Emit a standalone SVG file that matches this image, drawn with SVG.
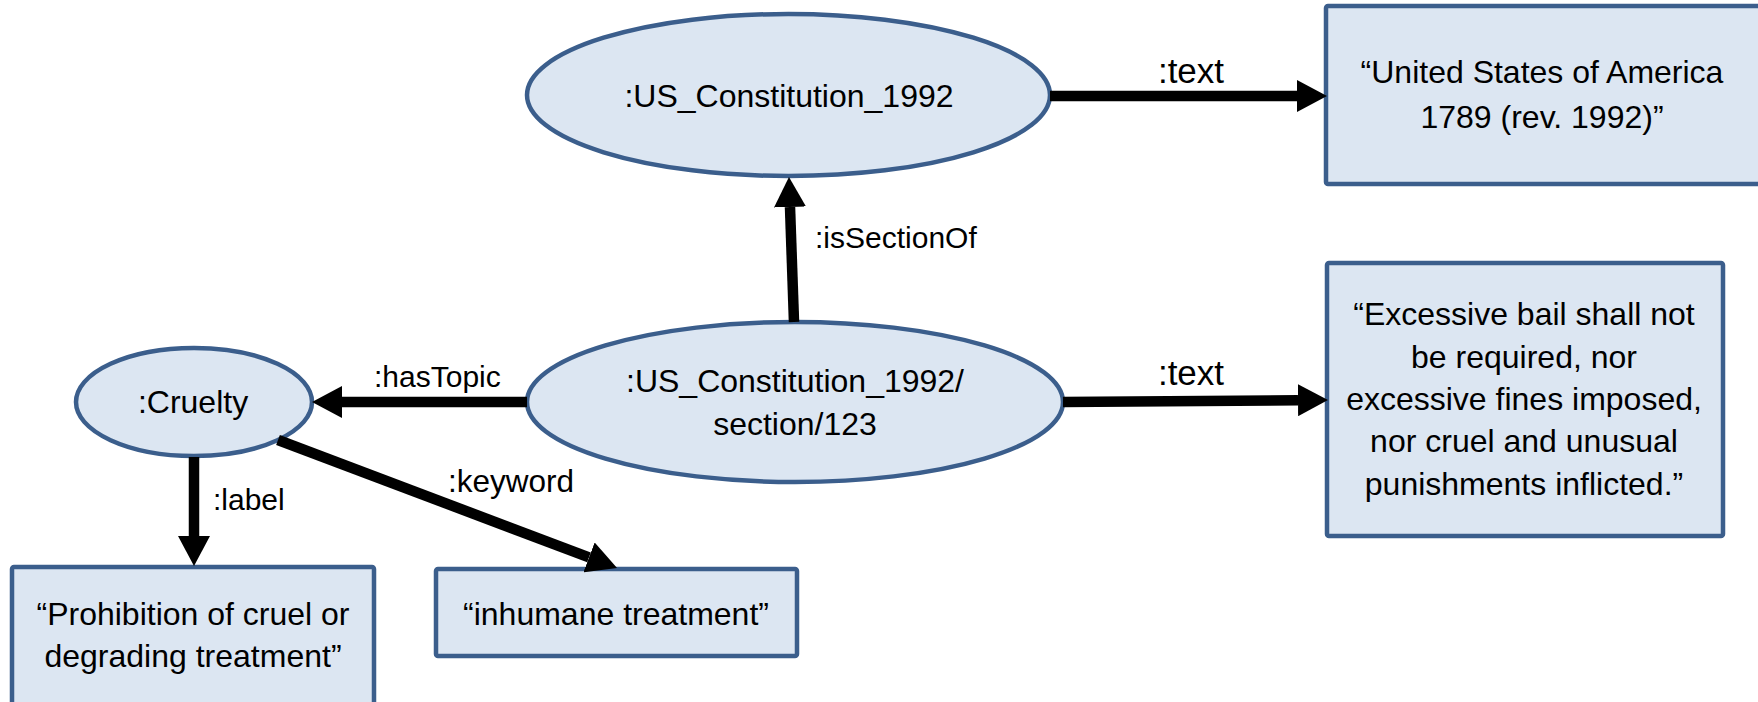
<svg xmlns="http://www.w3.org/2000/svg" width="1758" height="702" viewBox="0 0 1758 702">
  <style>
    .node { fill: #dce6f2; stroke: #3b5e8c; stroke-width: 4.5; }
    .txt { font-family: "Liberation Sans", Arial, sans-serif; fill: #000; }
    .ntxt { font-size: 32px; text-anchor: middle; }
    .lbl { font-size: 30px; }
    .edge { fill: none; stroke: #000; stroke-width: 10.5; stroke-linecap: butt; }
  </style>
  <defs>
    <marker id="arrow" viewBox="0 0 30 32" refX="0" refY="16" markerWidth="30" markerHeight="32" markerUnits="userSpaceOnUse" orient="auto">
      <path d="M0,0 L30,16 L0,32 Z" fill="#000"/>
    </marker>
  </defs>

  <rect width="1758" height="702" fill="#ffffff"/>

  <!-- resources -->
  <g id="constitution">
    <ellipse class="node" cx="788.5" cy="95" rx="261.5" ry="81"/>
    <text class="txt ntxt" x="789" y="107" font-size="31.5">:US_Constitution_1992</text>
  </g>

  <g id="section">
    <ellipse class="node" cx="795" cy="402" rx="268" ry="80"/>
    <text class="txt ntxt" x="795" y="392">:US_Constitution_1992/</text>
    <text class="txt ntxt" x="795" y="435">section/123</text>
  </g>

  <g id="cruelty">
    <ellipse class="node" cx="194" cy="402" rx="118" ry="54"/>
    <text class="txt ntxt" x="193" y="413" font-size="30.5">:Cruelty</text>
  </g>

  <!-- literals -->
  <g id="constitution-text">
    <rect class="node" x="1326" y="6" width="440" height="178" rx="2"/>
    <text class="txt ntxt" x="1542" y="83">“United States of America</text>
    <text class="txt ntxt" x="1542" y="128">1789 (rev. 1992)”</text>
  </g>

  <g id="section-text">
    <rect class="node" x="1327" y="263" width="396" height="273" rx="2"/>
    <text class="txt ntxt" x="1524" y="325">“Excessive bail shall not</text>
    <text class="txt ntxt" x="1524" y="368">be required, nor</text>
    <text class="txt ntxt" x="1524" y="410">excessive fines imposed,</text>
    <text class="txt ntxt" x="1524" y="452">nor cruel and unusual</text>
    <text class="txt ntxt" x="1524" y="495">punishments inflicted.”</text>
  </g>

  <g id="cruelty-label">
    <rect class="node" x="12" y="567" width="362" height="145" rx="2"/>
    <text class="txt ntxt" x="193" y="625">“Prohibition of cruel or</text>
    <text class="txt ntxt" x="193" y="667">degrading treatment”</text>
  </g>

  <g id="cruelty-keyword">
    <rect class="node" x="436" y="569" width="361" height="87" rx="2"/>
    <text class="txt ntxt" x="616" y="625" font-size="33">“inhumane treatment”</text>
  </g>

  <!-- properties -->
  <g id="connectors">
    <path class="edge" d="M1050,96 H1297" marker-end="url(#arrow)"/>
    <path class="edge" d="M1063,402 L1298,400.2" marker-end="url(#arrow)"/>
    <path class="edge" d="M794,322 L790,207" marker-end="url(#arrow)"/>
    <path class="edge" d="M527,402 H342" marker-end="url(#arrow)"/>
    <path class="edge" d="M194,457 V536" marker-end="url(#arrow)"/>
    <path class="edge" d="M278,440 L589,557.4" marker-end="url(#arrow)"/>

    <text class="txt" x="1191" y="83" font-size="35" text-anchor="middle">:text</text>
    <text class="txt" x="1191" y="385" font-size="35" text-anchor="middle">:text</text>
    <text class="txt lbl" x="815" y="248">:isSectionOf</text>
    <text class="txt lbl" x="374" y="387">:hasTopic</text>
    <text class="txt lbl" x="213" y="510">:label</text>
    <text class="txt" x="448" y="492" font-size="31.5">:keyword</text>
  </g>
</svg>
